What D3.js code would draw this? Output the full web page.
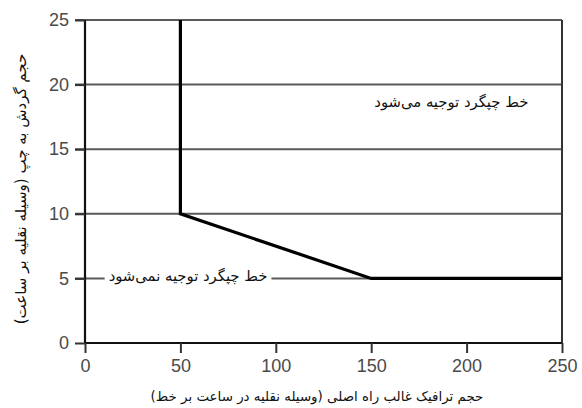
<!DOCTYPE html>
<html><head><meta charset="utf-8">
<script src="https://cdn.jsdelivr.net/npm/d3@7"></script>
<style>body{margin:0;background:#fff}svg{display:block}</style>
</head><body>
<svg id="c" width="582" height="408"></svg>
<script>
const xTicks = [0, 50, 100, 150, 200, 250];
const yTicks = [0, 5, 10, 15, 20, 25];
const boundaryX = [50, 50, 150, 250];
const boundaryY = [25, 10, 5, 5];
const xTitle = "حجم ترافیک غالب راه اصلی (وسیله نقلیه در ساعت بر خط)";
const yTitle = "حجم گردش به چپ (وسیله نقلیه بر ساعت)";
const upperLabel = "خط چپگرد توجیه می‌شود";
const lowerLabel = "خط چپگرد توجیه نمی‌شود";
const upperLabelPos = [192, 18.7];
const lowerLabelPos = [54, 5];

const svg = d3.select("#c");
const m = {l: 85, t: 20, r: 20, b: 65};
const W = 582, H = 408;
const x = d3.scaleLinear().domain([0, 250]).range([m.l, W - m.r]);
const y = d3.scaleLinear().domain([0, 25]).range([H - m.b, m.t]);
const persian = "'DejaVu Sans', 'Noto Sans', sans-serif";

// horizontal gridlines (extend left as ticks)
svg.append("g").selectAll("line").data(yTicks.filter(d => d > 0)).join("line")
  .attr("x1", x(0) - 10).attr("x2", x(250))
  .attr("y1", d => y(d)).attr("y2", d => y(d))
  .attr("stroke", "#5a5a5a").attr("stroke-width", 2);

// right border
svg.append("line").attr("x1", x(250)).attr("x2", x(250))
  .attr("y1", y(25)).attr("y2", y(0)).attr("stroke", "#333").attr("stroke-width", 2);

// axes
const xAxis = svg.append("g").attr("transform", `translate(0,${y(0)})`)
  .call(d3.axisBottom(x).tickValues(xTicks).tickSize(10).tickPadding(6));
const yAxis = svg.append("g").attr("transform", `translate(${x(0)},0)`)
  .call(d3.axisLeft(y).tickValues(yTicks).tickSize(10).tickPadding(6));
[xAxis, yAxis].forEach(a => {
  a.select(".domain").attr("stroke", "#111").attr("stroke-width", 2.2);
  a.selectAll(".tick line").attr("stroke", "#333").attr("stroke-width", 2);
  a.selectAll(".tick text").attr("fill", "#4a4a4a")
    .style("font-family", "'Liberation Sans', Arial, sans-serif").style("font-size", "18px");
});
yAxis.select(".domain").attr("d", `M0,${y(25)}V${y(0)}`);
xAxis.select(".domain").attr("d", `M${x(0)},0H${x(250)}`);

// lower label with white background over gridline
const lg = svg.append("g");
const lt = lg.append("text").attr("x", x(lowerLabelPos[0])).attr("y", y(lowerLabelPos[1]))
  .attr("text-anchor", "middle").attr("dominant-baseline", "central").attr("dy", "-0.2em")
  .attr("direction", "rtl").style("font-family", persian).style("font-size", "14.8px")
  .attr("fill", "#111").text(lowerLabel);
const bb = lt.node().getBBox();
lg.insert("rect", "text").attr("x", bb.x - 4).attr("y", y(lowerLabelPos[1]) - 3)
  .attr("width", bb.width + 8).attr("height", 6).attr("fill", "#fff");

// boundary line
const line = d3.line().x((d, i) => x(boundaryX[i])).y((d, i) => y(boundaryY[i]));
svg.append("path").datum(boundaryX).attr("d", line)
  .attr("fill", "none").attr("stroke", "#000").attr("stroke-width", 3.2)
  .attr("stroke-linejoin", "miter");

// upper label
svg.append("text").attr("x", x(upperLabelPos[0])).attr("y", y(upperLabelPos[1]))
  .attr("text-anchor", "middle").attr("dominant-baseline", "central")
  .attr("direction", "rtl").style("font-family", persian).style("font-size", "14.8px")
  .attr("fill", "#111").text(upperLabel);

// axis titles
svg.append("text").attr("x", 317).attr("y", 396)
  .attr("text-anchor", "middle").attr("dominant-baseline", "central")
  .attr("direction", "rtl").style("font-family", persian).style("font-size", "13.4px")
  .attr("fill", "#111").text(xTitle);
svg.append("text").attr("transform", `translate(21,189) rotate(-90)`)
  .attr("text-anchor", "middle").attr("dominant-baseline", "central")
  .attr("direction", "rtl").style("font-family", persian).style("font-size", "15px")
  .attr("fill", "#111").text(yTitle);
</script>
</body></html>
